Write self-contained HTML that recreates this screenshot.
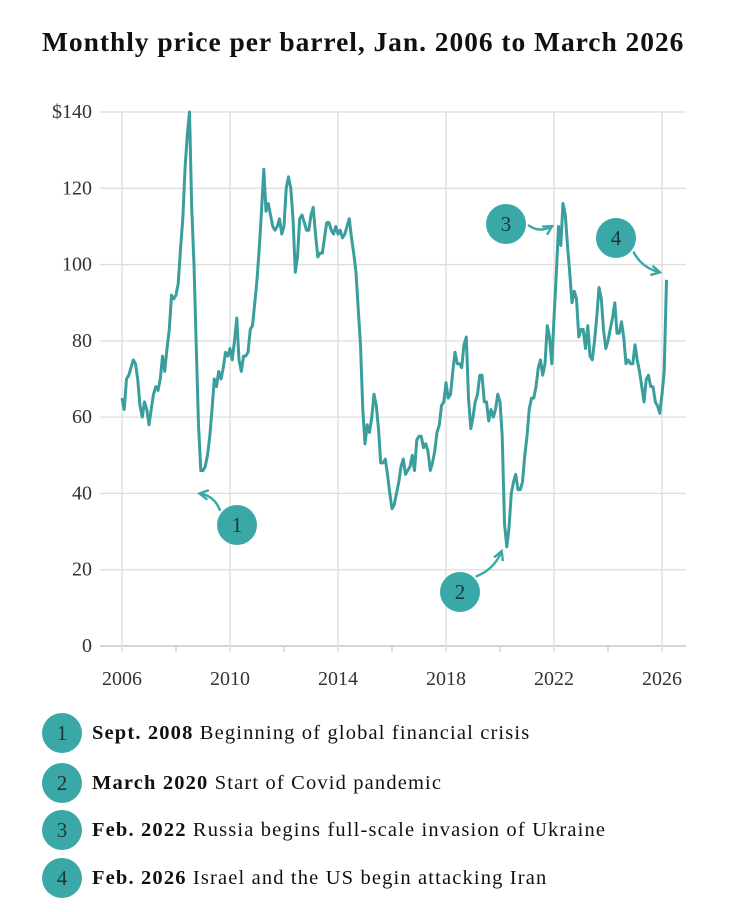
<!DOCTYPE html>
<html><head><meta charset="utf-8"><style>
body{margin:0;background:#fff;width:748px;height:912px;overflow:hidden;font-family:"Liberation Serif",serif;color:#111}
#title{position:absolute;left:42px;top:26px;font-size:27.5px;font-weight:bold;letter-spacing:0.95px;white-space:nowrap}
.leg{position:absolute;left:42px;height:40px;display:flex;align-items:center;font-size:20.5px;letter-spacing:1.15px;white-space:nowrap}
.bub{width:40px;height:40px;border-radius:50%;background:#3aa8a6;display:flex;align-items:center;justify-content:center;font-size:21px;color:#1a3838;margin-right:10px;letter-spacing:0}
</style></head><body>
<div id="title">Monthly price per barrel, Jan. 2006 to March 2026</div>
<svg id="chart" width="748" height="700" style="position:absolute;left:0;top:0"></svg>
<div class="leg" style="top:713px"><div class="bub">1</div><b>Sept. 2008</b>&nbsp;Beginning of global financial crisis</div>
<div class="leg" style="top:763px"><div class="bub">2</div><b>March 2020</b>&nbsp;Start of Covid pandemic</div>
<div class="leg" style="top:810px"><div class="bub">3</div><b>Feb. 2022</b>&nbsp;Russia begins full-scale invasion of Ukraine</div>
<div class="leg" style="top:858px"><div class="bub">4</div><b>Feb. 2026</b>&nbsp;Israel and the US begin attacking Iran</div>
<script>
const startYear = 2006;
const prices = [
65,62,70,71,73,75,74,70,63,60,64,62,
58,62,66,68,67,70,76,72,78,83,92,91,
92,95,104,112,125,134,140,115,100,78,58,46,
46,47,50,55,62,70,68,72,70,73,77,76,
78,75,80,86,75,72,76,76,77,83,84,90,
96,104,114,125,114,116,113,110,109,110,112,108,
110,120,123,120,112,98,102,112,113,111,109,109,
113,115,108,102,103,103,107,111,111,109,108,110,
108,109,107,108,110,112,107,103,98,88,79,62,
53,58,56,60,66,63,57,48,48,49,45,40,
36,37,40,43,47,49,45,46,47,50,46,54,
55,55,52,53,51,46,48,51,56,58,63,64,
69,65,66,72,77,74,74,73,79,81,65,57,
60,64,66,71,71,64,64,59,62,60,62,66,
64,55,32,26,31,40,43,45,41,41,43,50,
55,62,65,65,68,73,75,71,74,84,81,74,
86,97,110,105,116,113,105,98,90,93,91,81,
83,83,78,84,76,75,80,86,94,91,83,78,
80,83,86,90,82,82,85,81,74,75,74,74,
79,75,72,68,64,70,71,68,68,64,63,61,
66,72,96];
const yTicks = [0,20,40,60,80,100,120,140];
const yTickLabels = ["0","20","40","60","80","100","120","$140"];
const xTicks = [2006,2010,2014,2018,2022,2026];
const xMinorTicks = [2008,2012,2016,2020,2024];
const notes = [{n:"1",year:2008.7,val:41,cx:237,cy:525},{n:"2",year:2020.22,val:26,cx:460,cy:592},{n:"3",year:2022.15,val:110,cx:506,cy:224},{n:"4",year:2026.1,val:97,cx:616,cy:238}];

const svg=document.getElementById('chart');
const NS='http://www.w3.org/2000/svg';
const X=y=>122+(y-2006)*27, Y=v=>646-v*534/140;
function mk(t,a){const e=document.createElementNS(NS,t);for(const k in a)e.setAttribute(k,a[k]);svg.appendChild(e);return e;}
yTicks.forEach((v,i)=>{
 const g=mk('line',{x1:100,x2:686,y1:Y(v),y2:Y(v),stroke:v===0?'#bbb':'#ddd','stroke-width':1.3});
 
 
 const t=mk('text',{x:92,y:Y(v)+6,'text-anchor':'end','font-size':20,fill:'#333','font-family':'Liberation Serif'});
 t.textContent=yTickLabels[i];
 
 
});
xTicks.forEach(y=>{
 const g=mk('line',{x1:X(y),x2:X(y),y1:Y(140),y2:Y(0)+6,stroke:'#ddd','stroke-width':1.3});
 
 
 const t=mk('text',{x:X(y),y:685,'text-anchor':'middle','font-size':20,fill:'#333','font-family':'Liberation Serif'});
 t.textContent=y;
 
 
});
xMinorTicks.forEach(y=>{
 const g=mk('line',{x1:X(y),x2:X(y),y1:Y(0),y2:Y(0)+6,stroke:'#ccc','stroke-width':1.3});
 
 
});
const d=prices.map((p,i)=>(i?'L':'M')+X(startYear+i/12).toFixed(1)+','+Y(p).toFixed(1)).join('');
const line=mk('path',{d:d,fill:'none',stroke:'#3a9e9d','stroke-width':3,'stroke-linejoin':'round'});


notes.forEach(o=>{
 const px=X(o.year), py=Y(o.val);
 const dx=px-o.cx, dy=py-o.cy, L=Math.hypot(dx,dy);
 const sx=o.cx+dx/L*22, sy=o.cy+dy/L*22, ex=px-dx/L*6, ey=py-dy/L*6;
 const mx=(sx+ex)/2-dy/L*8, my=(sy+ey)/2+dx/L*8;
 const a=mk('path',{d:`M${sx},${sy}Q${mx},${my} ${ex},${ey}`,fill:'none',stroke:'#3aa8a6','stroke-width':2.4});
 
 
 const ang=Math.atan2(ey-my,ex-mx);
 const h=mk('path',{d:`M${ex-10*Math.cos(ang-0.5)},${ey-10*Math.sin(ang-0.5)}L${ex},${ey}L${ex-10*Math.cos(ang+0.5)},${ey-10*Math.sin(ang+0.5)}`,fill:'none',stroke:'#3aa8a6','stroke-width':2.4});
 
 
 const c=mk('circle',{cx:o.cx,cy:o.cy,r:20,fill:'#3aa8a6'});
 
 
 const t=mk('text',{x:o.cx,y:o.cy+7,'text-anchor':'middle','font-size':21,fill:'#1a3838','font-family':'Liberation Serif'});
 t.textContent=o.n;
 
 
});
</script>
</body></html>
